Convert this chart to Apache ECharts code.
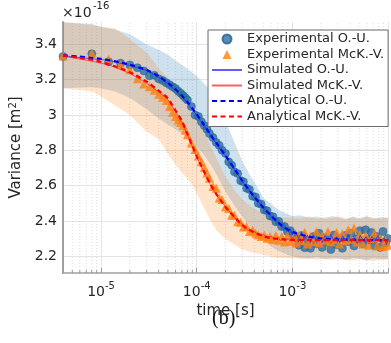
<!DOCTYPE html>
<html><head><meta charset="utf-8">
<script src="https://cdn.jsdelivr.net/npm/echarts@6/dist/echarts.min.js"></script>
<style>html,body{margin:0;padding:0;background:#fff}#c{width:391px;height:343px}</style>
</head><body><div id="c"></div>
<script>
// ---- data (times in microseconds, variance in 1e-16 m^2) ----
const expTime_us = [4, 8, 12, 16, 20, 24, 28, 32, 36, 40, 44, 48, 52, 56, 60,
  64, 68, 72, 76, 80, 88, 96, 104, 112, 120, 128, 136, 148, 160, 172, 184, 200, 216, 232, 248, 268, 288, 308, 332, 356, 384, 412, 440, 472, 508, 544, 584, 628, 672, 720, 772, 828, 888, 952, 1020,
  1092, 1172, 1256, 1348, 1444, 1548, 1660, 1780, 1908, 2048, 2196, 2356, 2524, 2708, 2904, 3112, 3336, 3580, 3840, 4116, 4412, 4732, 5076, 5444, 5836, 6256, 6708, 7192, 7712, 8268, 8864, 9504, 10000];
const expOU = [3.332, 3.347, 3.302, 3.294, 3.284, 3.268, 3.250, 3.222, 3.225, 3.205, 3.196, 3.183, 3.172, 3.160, 3.150,
  3.135, 3.124, 3.110, 3.098, 3.085, 3.048, 3.000, 2.992, 2.962, 2.940, 2.920, 2.895, 2.872, 2.845, 2.828, 2.800, 2.782, 2.735, 2.716, 2.678, 2.668, 2.628, 2.622, 2.585, 2.578, 2.540, 2.536, 2.500, 2.495, 2.462, 2.458, 2.428, 2.424, 2.395, 2.398, 2.368, 2.368, 2.340, 2.345, 2.318,
  2.300, 2.262, 2.318, 2.248, 2.290, 2.245, 2.312, 2.270, 2.330, 2.250, 2.305, 2.278, 2.238, 2.320, 2.265, 2.300, 2.245, 2.318, 2.282, 2.330, 2.258, 2.300, 2.345, 2.270, 2.350, 2.295, 2.335, 2.260, 2.312, 2.250, 2.340, 2.275, 2.300];
const expMcKV = [3.334, 3.350, 3.318, 3.288, 3.256, 3.205, 3.176, 3.160, 3.140, 3.118, 3.100, 3.082, 3.048, 3.015, 2.992,
  2.972, 2.958, 2.940, 2.915, 2.888, 2.842, 2.805, 2.768, 2.735, 2.702, 2.672, 2.642, 2.595, 2.585, 2.530, 2.522, 2.480, 2.470, 2.432, 2.432, 2.395, 2.392, 2.365, 2.368, 2.340, 2.348, 2.330, 2.322, 2.312, 2.320, 2.302, 2.312, 2.295, 2.318, 2.290, 2.312, 2.280, 2.318, 2.285, 2.305,
  2.275, 2.322, 2.288, 2.335, 2.270, 2.312, 2.282, 2.338, 2.275, 2.318, 2.290, 2.340, 2.280, 2.295, 2.335, 2.270, 2.328, 2.288, 2.350, 2.295, 2.360, 2.280, 2.325, 2.270, 2.318, 2.262, 2.300, 2.330, 2.258, 2.305, 2.255, 2.290, 2.262];

const simTime_us = [4, 8, 12, 20, 30, 40, 50, 60, 70, 80, 90, 100, 120, 140, 160, 180, 200,
  250, 300, 350, 400, 450, 500, 550, 600, 650, 700, 750, 800, 850, 900, 950, 1000,
  1080, 1160, 1250, 1340, 1440, 1550, 1660, 1780, 1910, 2050, 2200, 2360, 2530, 2720, 2920, 3130, 3360, 3600, 3870, 4150, 4450, 4780, 5130, 5500, 5900, 6330, 6800, 7300, 7830, 8400, 9020, 9680, 10000];
const simOU = [3.336, 3.318, 3.310, 3.280, 3.252, 3.214, 3.178, 3.140, 3.104, 3.068, 3.030, 2.998, 2.936, 2.884, 2.838, 2.800, 2.766,
  2.690, 2.622, 2.580, 2.532, 2.505, 2.470, 2.455, 2.426, 2.418, 2.392, 2.385, 2.362, 2.362, 2.340, 2.352, 2.322,
  2.345, 2.300, 2.335, 2.296, 2.318, 2.280, 2.322, 2.290, 2.308, 2.275, 2.318, 2.292, 2.325, 2.284, 2.310, 2.278, 2.315, 2.288, 2.322, 2.280, 2.302, 2.272, 2.318, 2.290, 2.310, 2.280, 2.312, 2.286, 2.316, 2.278, 2.305, 2.266, 2.300];
const simMcKV = [3.334, 3.305, 3.285, 3.236, 3.180, 3.130, 3.088, 3.020, 2.958, 2.888, 2.822, 2.762, 2.672, 2.602, 2.548, 2.512, 2.480,
  2.418, 2.380, 2.346, 2.340, 2.318, 2.322, 2.302, 2.315, 2.292, 2.308, 2.288, 2.304, 2.282, 2.300, 2.286, 2.310,
  2.282, 2.296, 2.275, 2.305, 2.285, 2.300, 2.272, 2.298, 2.282, 2.306, 2.278, 2.295, 2.270, 2.300, 2.285, 2.302, 2.276, 2.298, 2.283, 2.305, 2.290, 2.272, 2.296, 2.281, 2.300, 2.268, 2.292, 2.278, 2.301, 2.272, 2.290, 2.280, 2.286];

const anaTime_us = [4, 6, 8, 10, 15, 20, 30, 40, 50, 60, 70, 80, 90, 100, 120, 140, 160, 180, 200, 250, 300, 350, 400, 500, 600, 700, 800, 1000, 1500, 2000, 3000, 5000, 10000];
const anaOU = [3.338, 3.331, 3.323, 3.318, 3.301, 3.285, 3.255, 3.220, 3.182, 3.146, 3.110, 3.074, 3.038, 3.004, 2.942, 2.888, 2.843, 2.805, 2.770, 2.692, 2.627, 2.577, 2.537, 2.474, 2.430, 2.394, 2.368, 2.338, 2.311, 2.301, 2.295, 2.292, 2.291];
const anaMcKV = [3.338, 3.324, 3.313, 3.300, 3.270, 3.242, 3.189, 3.138, 3.094, 3.026, 2.966, 2.892, 2.825, 2.767, 2.677, 2.606, 2.553, 2.514, 2.479, 2.421, 2.376, 2.352, 2.335, 2.313, 2.304, 2.298, 2.296, 2.293, 2.292, 2.292, 2.292, 2.292, 2.292];

const bandTime_us = [4, 8, 10, 14, 20, 30, 40, 50, 60, 70, 80, 90, 100, 120, 140, 160, 180, 200, 250, 300, 350, 400, 500, 600, 700, 800,
  1000, 1200, 1500, 1800, 2200, 2600, 3000, 3600, 4300, 5000, 6000, 7000, 8500, 10000];
const ouUpper = [3.525, 3.515, 3.50, 3.484, 3.458, 3.40, 3.37, 3.342, 3.31, 3.283, 3.262, 3.243, 3.22, 3.177, 3.14, 3.09, 3.022, 2.966, 2.841, 2.74, 2.672, 2.62, 2.53, 2.496, 2.468, 2.451,
  2.428, 2.432, 2.418, 2.425, 2.412, 2.428, 2.420, 2.410, 2.425, 2.415, 2.428, 2.412, 2.422, 2.418];
const ouLower = [3.152, 3.158, 3.150, 3.133, 3.097, 3.032, 2.98, 2.946, 2.92, 2.894, 2.87, 2.845, 2.82, 2.772, 2.72, 2.666, 2.613, 2.566, 2.484, 2.424, 2.375, 2.333, 2.288, 2.255, 2.232, 2.219,
  2.198, 2.192, 2.185, 2.195, 2.182, 2.19, 2.186, 2.178, 2.19, 2.184, 2.176, 2.188, 2.18, 2.186];
const mkUpper = [3.525, 3.51, 3.50, 3.49, 3.43, 3.354, 3.266, 3.21, 3.166, 3.123, 3.083, 3.048, 3.00, 2.91, 2.825, 2.757, 2.698, 2.65, 2.572, 2.522, 2.493, 2.469, 2.444, 2.426, 2.42, 2.418,
  2.42, 2.415, 2.426, 2.412, 2.422, 2.416, 2.428, 2.414, 2.42, 2.41, 2.424, 2.418, 2.412, 2.42];
const mkLower = [3.152, 3.133, 3.105, 3.054, 3.0, 2.905, 2.864, 2.78, 2.719, 2.675, 2.638, 2.604, 2.558, 2.471, 2.40, 2.349, 2.32, 2.298, 2.264, 2.238, 2.227, 2.219, 2.208, 2.198, 2.192, 2.19,
  2.188, 2.184, 2.19, 2.18, 2.186, 2.178, 2.188, 2.182, 2.176, 2.186, 2.18, 2.172, 2.184, 2.178];

const xTickExponents = [-5, -4, -3];
const legendNames = ['Experimental O.-U.', 'Experimental McK.-V.', 'Simulated O.-U.', 'Simulated McK.-V.', 'Analytical O.-U.', 'Analytical McK.-V.'];
const yExponentLabel = '-16';

// ---- helpers ----
const X_MIN = 4e-6, X_MAX = 1e-2, Y_MIN = 2.105, Y_MAX = 3.527;
const pairs = (tUs, vals) => tUs.map((t, i) => [t * 1e-6, vals[i]]);
const minorTimes = [];
for (let e = -6; e <= -3; e++) for (let k = 2; k <= 9; k++) {
  const t = k * Math.pow(10, e);
  if (t > X_MIN && t < X_MAX) minorTimes.push(t);
}
const FONT = 'DejaVu Sans';
const TXT = '#262626';
const CIRCLE_ICON = 'path://M50,0A50,50,0,1,1,49.99,0Z';
const TRIANGLE_ICON = 'path://M50,0L100,100L0,100Z';

const chart = echarts.init(document.getElementById('c'), null, {renderer: 'canvas'});

// shaded band: one polygon through upper bound then back along lower bound
const bandSeries = (lower, upper, color) => ({
  type: 'custom', silent: true, z: 1,
  data: bandTime_us.map((t, i) => [t * 1e-6, lower[i], upper[i]]),
  encode: {x: 0, y: [1, 2]},
  renderItem: (params, api) => {
    if (params.dataIndex !== 0) return null;
    const pts = [];
    for (let i = 0; i < bandTime_us.length; i++) pts.push(api.coord([bandTime_us[i] * 1e-6, upper[i]]));
    for (let i = bandTime_us.length - 1; i >= 0; i--) pts.push(api.coord([bandTime_us[i] * 1e-6, lower[i]]));
    return {type: 'polygon', shape: {points: pts}, style: {fill: color, stroke: null}};
  }
});

const series = [
  {type: 'custom', silent: true, z: 0,
   data: minorTimes.map(t => [t, Y_MIN]),
   encode: {x: 0, y: 1},
   renderItem: (params, api) => {
     const top = api.coord([api.value(0), Y_MAX]);
     const bot = api.coord([api.value(0), Y_MIN]);
     return {type: 'line', shape: {x1: bot[0], y1: bot[1], x2: top[0], y2: top[1]},
        style: {stroke: '#dcdcdc', lineWidth: 1, lineDash: [1, 2]}};
   }},
  bandSeries(ouLower, ouUpper, 'rgba(31,119,180,0.22)'),
  bandSeries(mkLower, mkUpper, 'rgba(255,127,14,0.22)'),
  {type: 'custom', silent: true, z: 2,
   data: minorTimes.map(t => [t, Y_MIN]),
   encode: {x: 0, y: 1},
   renderItem: (params, api) => {
     const bot = api.coord([api.value(0), Y_MIN]);
     return {type: 'line', shape: {x1: bot[0], y1: bot[1], x2: bot[0], y2: bot[1] - 3},
        style: {stroke: '#9a9a9a', lineWidth: 1}};
   }},
  {name: legendNames[0], type: 'scatter', data: pairs(expTime_us, expOU), symbol: 'circle', symbolSize: 8,
   itemStyle: {color: '#2a70a6', borderColor: '#235f8e', borderWidth: 0.6}, z: 3},
  {name: legendNames[1], type: 'scatter', data: pairs(expTime_us, expMcKV), symbol: 'triangle', symbolSize: 9,
   itemStyle: {color: '#ff7f0e'}, z: 3},
  {name: legendNames[2], type: 'line', data: pairs(simTime_us, simOU), symbol: 'none',
   lineStyle: {width: 1, color: 'rgba(40,40,255,0.75)'}, itemStyle: {color: 'rgba(40,40,255,0.75)'}, z: 4},
  {name: legendNames[3], type: 'line', data: pairs(simTime_us, simMcKV), symbol: 'none',
   lineStyle: {width: 1, color: 'rgba(255,40,40,0.75)'}, itemStyle: {color: 'rgba(255,40,40,0.75)'}, z: 4},
  {name: legendNames[4], type: 'line', data: pairs(anaTime_us, anaOU), symbol: 'none', smooth: 0.3,
   lineStyle: {width: 2.2, color: '#0000ff', type: [5, 3.5]}, itemStyle: {color: '#0000ff'}, z: 5},
  {name: legendNames[5], type: 'line', data: pairs(anaTime_us, anaMcKV), symbol: 'none', smooth: 0.3,
   lineStyle: {width: 2.2, color: '#ff0000', type: [5, 3.5]}, itemStyle: {color: '#ff0000'}, z: 5}
];

const legendData = legendNames.map((n, i) => i < 2
  ? {name: n, icon: i === 0 ? CIRCLE_ICON : TRIANGLE_ICON}
  : {name: n, itemStyle: {opacity: 0}});

chart.setOption({
  animation: false,
  backgroundColor: '#fff',
  grid: {left: 63, top: 22, right: -3, bottom: 70, containLabel: false},
  legend: {
    orient: 'vertical', left: 208, top: 30, padding: [2, 4, 3, 3],
    itemWidth: 30, itemHeight: 9, itemGap: 1.5, symbolKeepAspect: true,
    backgroundColor: '#fff', borderColor: '#6a6a6a', borderWidth: 1, borderRadius: 0,
    selectedMode: false, z: 10,
    textStyle: {fontFamily: FONT, fontSize: 13, color: TXT, lineHeight: 14},
    data: legendData
  },
  xAxis: {
    type: 'log', logBase: 10, min: X_MIN, max: X_MAX,
    axisLine: {show: true, lineStyle: {color: '#a0a0a0', width: 1.5}},
    axisTick: {show: true, inside: true, length: 5, lineStyle: {color: '#9a9a9a'}},
    axisLabel: {
      showMinLabel: false, showMaxLabel: false, margin: 8,
      formatter: v => {
        const e = Math.round(Math.log10(v));
        return xTickExponents.indexOf(e) >= 0 ? '{b|10}{s|' + e + '}' : '';
      },
      rich: {
        b: {fontFamily: FONT, fontSize: 14, color: TXT, verticalAlign: 'bottom', lineHeight: 18},
        s: {fontFamily: FONT, fontSize: 10, color: TXT, verticalAlign: 'top', lineHeight: 12}
      }
    },
    splitLine: {show: true, lineStyle: {color: '#e4e4e4', width: 1}},
    name: 'time [s]', nameLocation: 'middle', nameGap: 28,
    nameTextStyle: {fontFamily: FONT, fontSize: 15, color: TXT}
  },
  yAxis: {
    type: 'value', min: Y_MIN, max: Y_MAX, splitNumber: 7, minInterval: 0.2, maxInterval: 0.2,
    axisLine: {show: true, lineStyle: {color: '#a0a0a0', width: 2}},
    axisTick: {show: false},
    axisLabel: {showMinLabel: false, showMaxLabel: false, margin: 6,
      fontFamily: FONT, fontSize: 14, color: TXT},
    splitLine: {show: true, showMinLine: false, showMaxLine: false, lineStyle: {color: '#e4e4e4', width: 1}},
    name: 'Variance [m{s|2}]', nameLocation: 'middle', nameGap: 33,
    nameTextStyle: {fontFamily: FONT, fontSize: 15, color: TXT,
      rich: {s: {fontFamily: FONT, fontSize: 10, color: TXT, verticalAlign: 'top', lineHeight: 10}}}
  },
  graphic: [
    {type: 'text', left: 62, top: 6, style: {text: '×10', font: '14px "DejaVu Sans"', fill: TXT}},
    {type: 'text', left: 93, top: 1, style: {text: yExponentLabel, font: '10px "DejaVu Sans"', fill: TXT}},
    {type: 'text', left: 212, top: 309, style: {text: '(b)', font: '20px "Liberation Serif"', fill: '#111'}}
  ],
  series
});
</script></body></html>
